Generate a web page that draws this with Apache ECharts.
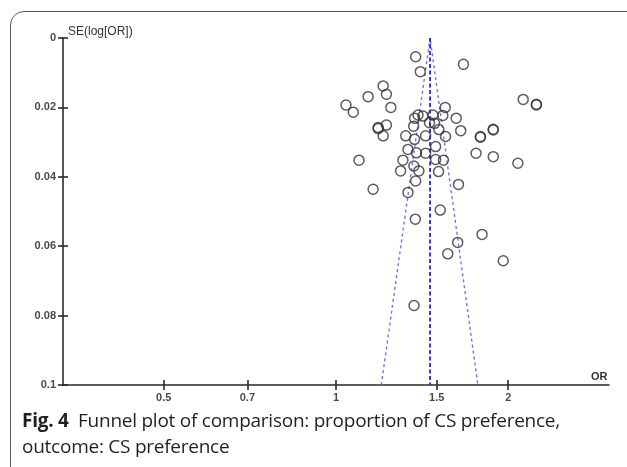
<!DOCTYPE html>
<html>
<head>
<meta charset="utf-8">
<script src="https://cdn.jsdelivr.net/npm/echarts@6/dist/echarts.min.js"></script>
<style>
html,body{margin:0;padding:0;background:#fff;}
#wrap{position:relative;width:627px;height:467px;overflow:hidden;background:#fff;}
#frame{position:absolute;left:10px;top:11px;width:650px;height:470px;border:1.5px solid #5a5a5a;border-radius:14px;box-sizing:border-box;}
#chart{position:absolute;left:0;top:0;width:627px;height:467px;}
#cap{position:absolute;left:22px;top:407px;font-family:'Open Sans',sans-serif;font-size:19px;line-height:26px;color:#231f20;white-space:nowrap;letter-spacing:-0.25px;}
#cap b{font-weight:700;}
</style>
</head>
<body>
<div id="wrap">
  <div id="frame"></div>
  <div id="chart"></div>
  <div id="cap"><b>Fig. 4</b>&nbsp; Funnel plot of comparison: proportion of CS preference,<br>outcome: CS preference</div>
</div>
<script>
// Study odds ratios (x) and standard errors of log(OR) (y)
const studyOR = [
  1.378, 1.670, 1.404, 1.209, 1.225, 1.138, 1.041, 1.072, 1.247, 1.552,
  2.124, 2.240, 2.240, 1.391, 1.419, 1.477, 1.537, 1.622, 1.372, 1.457,
  1.487, 1.513, 1.652, 1.367, 1.185, 1.185, 1.225, 1.209, 1.324, 1.434,
  1.554, 1.372, 1.788, 1.788, 1.883, 1.883, 1.336, 1.493, 1.382, 1.434,
  1.309, 1.493, 1.541, 1.097, 1.757, 1.883, 2.079, 1.368, 1.297, 1.396,
  1.511, 1.378, 1.637, 1.161, 1.336, 1.521, 1.376, 1.800, 1.632, 1.568,
  1.960, 1.369
];
const studySE = [
  0.0054, 0.0076, 0.0097, 0.0138, 0.0162, 0.0169, 0.0193, 0.0214, 0.0200, 0.0200,
  0.0177, 0.0191, 0.0193, 0.0222, 0.0225, 0.0222, 0.0223, 0.0231, 0.0231, 0.0244,
  0.0246, 0.0264, 0.0267, 0.0254, 0.0258, 0.0261, 0.0251, 0.0282, 0.0282, 0.0282,
  0.0284, 0.0292, 0.0284, 0.0286, 0.0263, 0.0265, 0.0321, 0.0313, 0.0331, 0.0332,
  0.0352, 0.0350, 0.0352, 0.0352, 0.0332, 0.0342, 0.0361, 0.0369, 0.0383, 0.0383,
  0.0385, 0.0412, 0.0422, 0.0436, 0.0445, 0.0496, 0.0522, 0.0566, 0.0589, 0.0622,
  0.0642, 0.0771
];
// Funnel: pooled OR and pseudo-95% limits at the largest SE
const pooledOR = 1.46;
const funnelSEMax = 0.1;
const funnelLowerOR = 1.20;
const funnelUpperOR = 1.77;
// Axes
const xTickLabels = [0.5, 0.7, 1, 1.5, 2];
const xRangeOR = [1 / 3, 3];
const yRange = [0, 0.1];
const yStep = 0.02;

const chart = echarts.init(document.getElementById('chart'));
const ln = Math.log;
const xTickPos = xTickLabels.map(ln);
const labelFont = { fontFamily: 'Liberation Sans', fontSize: 11, fontWeight: 'bold', color: '#4a4a4a' };
const axisLineStyle = { color: '#2a2a2a', width: 1.6 };
const tickLen = 5;

function xFmt(v) {
  let best = xTickLabels[0], bd = Infinity;
  xTickLabels.forEach(t => { const d = Math.abs(ln(t) - v); if (d < bd) { bd = d; best = t; } });
  return String(best);
}

const option = {
  animation: false,
  backgroundColor: 'transparent',
  grid: { left: 63, top: 38, width: 546, height: 347, containLabel: false },
  xAxis: [
    {
      type: 'value', position: 'bottom',
      min: ln(xRangeOR[0]), max: ln(xRangeOR[1]),
      axisLine: { show: true, onZero: false, lineStyle: axisLineStyle },
      axisTick: { show: true, length: tickLen, customValues: xTickPos, lineStyle: axisLineStyle },
      axisLabel: Object.assign({ show: true, margin: 7, customValues: xTickPos, formatter: xFmt }, labelFont),
      splitLine: { show: false }
    },
    {
      type: 'value', position: 'bottom',
      min: ln(xRangeOR[0]), max: ln(xRangeOR[1]),
      axisLine: { show: false, onZero: false },
      axisTick: { show: true, inside: true, length: tickLen, customValues: xTickPos, lineStyle: axisLineStyle },
      axisLabel: { show: false },
      splitLine: { show: false }
    }
  ],
  yAxis: [
    {
      type: 'value', inverse: true, position: 'left',
      min: yRange[0], max: yRange[1], interval: yStep,
      axisLine: { show: true, onZero: false, lineStyle: axisLineStyle },
      axisTick: { show: true, length: tickLen, lineStyle: axisLineStyle },
      axisLabel: Object.assign({ show: true, margin: 7 }, labelFont),
      splitLine: { show: false }
    },
    {
      type: 'value', inverse: true, position: 'left',
      min: yRange[0], max: yRange[1], interval: yStep,
      axisLine: { show: false, onZero: false },
      axisTick: { show: true, inside: true, length: tickLen, lineStyle: axisLineStyle },
      axisLabel: { show: false },
      splitLine: { show: false }
    }
  ],
  graphic: [
    { type: 'text', left: 68, top: 26, silent: true,
      style: { text: 'SE(log[OR])', font: '12px "Liberation Sans"', fill: '#333' } },
    { type: 'text', left: 591, top: 371, silent: true,
      style: { text: 'OR', font: 'bold 11px "Liberation Sans"', fill: '#333' } }
  ],
  series: [
    {
      type: 'line', xAxisIndex: 0, yAxisIndex: 0, symbol: 'none', silent: true, z: 1,
      lineStyle: { color: '#7474e4', width: 1.4, type: [3, 3] },
      data: [[ln(funnelLowerOR), funnelSEMax], [ln(pooledOR), 0], [ln(funnelUpperOR), funnelSEMax]]
    },
    {
      type: 'line', xAxisIndex: 0, yAxisIndex: 0, symbol: 'none', silent: true, z: 1,
      lineStyle: { color: '#2828c8', width: 1.8, type: [4, 2.5] },
      data: [[ln(pooledOR), 0], [ln(pooledOR), funnelSEMax]]
    },
    {
      type: 'scatter', xAxisIndex: 0, yAxisIndex: 0, symbol: 'circle', symbolSize: 10, z: 3,
      itemStyle: { color: 'rgba(0,0,0,0)', borderColor: '#333', borderWidth: 1.5 },
      data: studyOR.map((v, i) => [ln(v), studySE[i]])
    }
  ]
};
chart.setOption(option);
</script>
</body>
</html>
